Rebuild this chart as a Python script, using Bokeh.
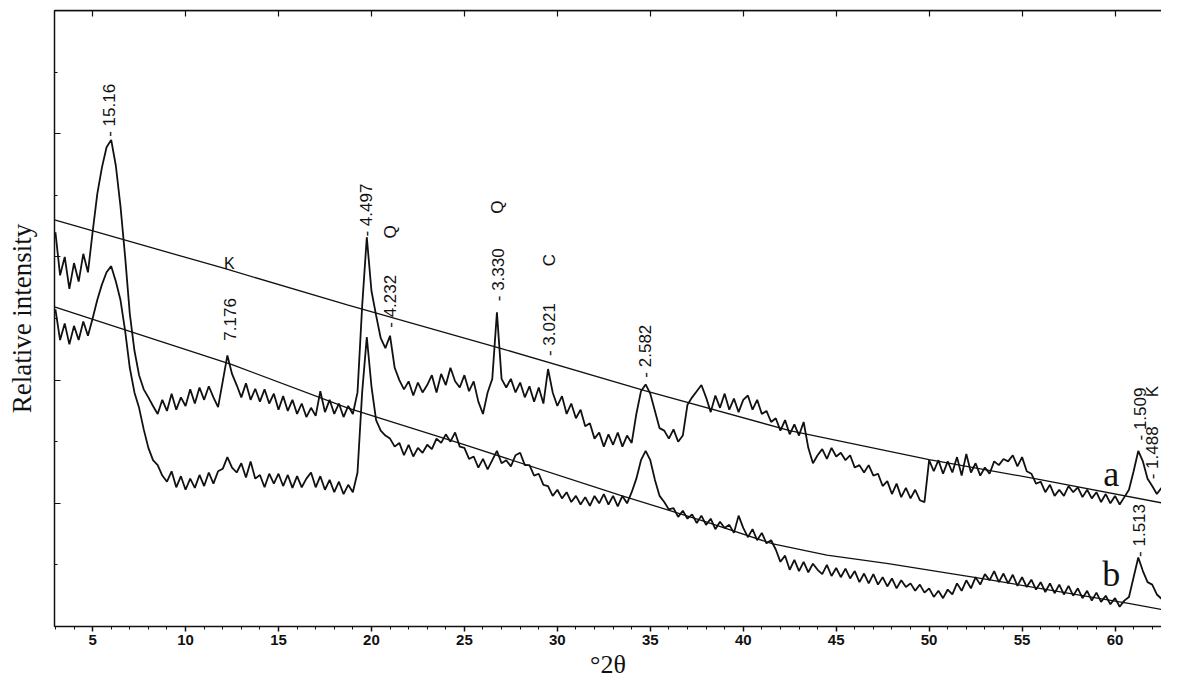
import numpy as np
from bokeh.plotting import figure
from bokeh.models import Range1d, LinearAxis, SingleIntervalTicker, CustomJSTickFormatter, ColumnDataSource, Span
from bokeh.core.properties import value
from bokeh.embed import file_html
from bokeh.resources import INLINE

# ---- data (2-theta grid: 3.00 .. 62.75 step 0.25) ----
theta_start = 3.0
theta_step = 0.25

intensity_a = [
    640, 570, 600, 548, 590, 560, 605, 575,   # 3-5
    640, 702, 745, 778, 790, 748, 682, 600,   # 5-7
    508, 448, 408, 385, 372, 358, 345, 368,   # 7-9
    350, 378, 352, 372, 358, 385, 362, 388,   # 9-11
    368, 390, 372, 356, 398, 440, 410, 392,   # 11-13
    372, 395, 368, 386, 365, 385, 362, 378,   # 13-15
    352, 374, 350, 368, 345, 362, 340, 355,   # 15-17
    342, 382, 348, 368, 345, 362, 340, 358,   # 17-19
    345, 380, 520, 632, 545, 505, 468, 452,   # 19-21
    472, 420, 400, 385, 398, 375, 396, 380,   # 21-23
    392, 408, 380, 410, 392, 420, 398, 388,   # 23-25
    408, 382, 398, 365, 345, 380, 402, 510,   # 25-27
    402, 388, 402, 380, 396, 372, 390, 365,   # 27-29
    388, 362, 418, 380, 358, 374, 345, 362,   # 29-31
    338, 352, 325, 330, 305, 315, 292, 312,   # 31-33
    295, 315, 292, 310, 298, 345, 382, 393,   # 33-35
    378, 350, 322, 318, 305, 320, 300, 310,   # 35-37
    360, 372, 382, 392, 372, 348, 375, 355,   # 37-39
    378, 352, 370, 348, 368, 375, 352, 368,   # 39-41
    345, 350, 332, 338, 318, 335, 312, 328,   # 41-43
    310, 332, 290, 265, 278, 288, 272, 290,   # 43-45
    276, 282, 270, 278, 258, 262, 250, 262,   # 45-47
    245, 248, 228, 236, 215, 232, 210, 225,   # 47-49
    208, 222, 205, 202, 270, 252, 270, 248,   # 49-51
    268, 250, 275, 245, 280, 250, 265, 245,   # 51-53
    258, 248, 268, 262, 272, 268, 278, 260,   # 53-55
    275, 252, 248, 232, 235, 218, 230, 212,   # 55-57
    222, 212, 228, 218, 226, 210, 222, 208,   # 57-59
    218, 202, 215, 200, 212, 198, 210, 222,   # 59-61
    252, 285, 268, 240, 228, 215, 225, 210,   # 61-63
]

intensity_b = [
    515, 465, 492, 458, 488, 465, 495, 472,   # 3-5
    500, 530, 555, 575, 585, 560, 530, 480,   # 5-7
    420, 380, 355, 320, 290, 270, 262, 245,   # 7-9
    235, 252, 226, 244, 222, 240, 225, 246,   # 9-11
    228, 250, 232, 252, 256, 275, 258, 250,   # 11-13
    265, 242, 268, 240, 246, 226, 248, 232,   # 13-15
    248, 228, 246, 225, 244, 226, 240, 250,   # 15-17
    226, 244, 222, 238, 218, 235, 215, 230,   # 17-19
    218, 250, 380, 470, 390, 335, 318, 310,   # 19-21
    305, 292, 298, 278, 295, 276, 290, 282,   # 21-23
    295, 288, 305, 298, 312, 300, 315, 292,   # 23-25
    290, 272, 276, 258, 272, 255, 270, 285,   # 25-27
    265, 270, 260, 278, 282, 262, 262, 245,   # 27-29
    248, 230, 228, 212, 222, 208, 218, 202,   # 29-31
    212, 198, 210, 196, 212, 200, 215, 198,   # 31-33
    212, 195, 212, 200, 218, 240, 270, 285,   # 33-35
    270, 238, 212, 202, 190, 192, 178, 188,   # 35-37
    175, 182, 168, 180, 165, 175, 158, 170,   # 37-39
    160, 165, 152, 180, 160, 145, 158, 140,   # 39-41
    152, 135, 140, 125, 105, 115, 92, 108,    # 41-43
    90, 105, 88, 102, 92, 85, 100, 82,        # 43-45
    95, 80, 94, 78, 90, 72, 86, 70,           # 45-47
    85, 68, 80, 65, 78, 62, 75, 64,           # 47-49
    70, 58, 68, 55, 62, 48, 58, 46,           # 49-51
    60, 52, 70, 58, 75, 62, 80, 68,           # 51-53
    85, 75, 90, 72, 86, 70, 84, 66,           # 53-55
    80, 64, 76, 60, 72, 56, 70, 54,           # 55-57
    68, 52, 66, 50, 62, 46, 58, 42,           # 57-59
    55, 40, 50, 36, 46, 32, 42, 48,           # 59-61
    80, 112, 90, 72, 68, 52, 45, 35,          # 61-63
]

baseline_a_x = [2.95, 12.0, 18.7, 26.9, 34.7, 42.5, 50.0, 55.9, 62.8]
baseline_a_y = [660, 582, 522, 452, 383, 318, 271, 239, 199]
baseline_b_x = [2.95, 12.5, 18.7, 24.9, 33.4, 38.0, 41.6, 44.5, 47.8, 53.2, 60.8, 62.8]
baseline_b_y = [519, 425, 355, 296, 213, 170, 134, 116, 102, 76, 37, 26]

peak_text = ["- 15.16", "7.176", "- 4.497", "Q", "- 4.232", "Q", "- 3.330", "C",
             "- 3.021", "- 2.582", "- 1.509", "- 1.488", "K", "- 1.513"]
peak_x = [5.9, 12.4, 19.75, 21.0, 21.0, 26.8, 26.85, 29.6,
          29.6, 34.75, 61.35, 62.0, 62.0, 61.3]
peak_y = [795, 464, 633, 630, 485, 670, 528, 585,
          439, 404, 302, 239, 372, 113]

upright_text = ["K"]
upright_x = [12.35]
upright_y = [590]

curve_names = ["a", "b"]
curve_name_x = [59.8, 59.8]
curve_name_y = [247, 86]

x_tick_interval = 5
y_tick_interval = 200
y_top = 1000

# ---- figure ----
x = [theta_start + theta_step * i for i in range(len(intensity_a))]
xb = [theta_start + theta_step * i for i in range(len(intensity_b))]

p = figure(width=1161, height=683, output_backend="svg", toolbar_location=None, title=None,
           x_range=Range1d(2.95, 62.5), y_range=Range1d(0, y_top),
           min_border_left=54, min_border_right=0, min_border_top=10, min_border_bottom=57,
           x_axis_location="below")
p.outline_line_color = None
p.grid.visible = False
p.background_fill_color = "white"
p.border_fill_color = "white"

black = "#111111"

# bottom axis
xa = p.xaxis[0]
xa.ticker = SingleIntervalTicker(interval=x_tick_interval, num_minor_ticks=5)
xa.major_tick_in = 0
xa.major_tick_out = 5
xa.minor_tick_in = 0
xa.minor_tick_out = 3
xa.axis_line_width = 1.5
xa.axis_line_color = black
xa.major_tick_line_color = black
xa.minor_tick_line_color = black
xa.major_tick_line_width = 1.5
xa.major_label_text_font = "Liberation Sans"
xa.major_label_text_font_style = "bold"
xa.major_label_text_font_size = "15px"
xa.major_label_text_color = black
xa.major_label_standoff = 3
xa.axis_label = "°2θ"
xa.axis_label_text_font = "Liberation Serif"
xa.axis_label_text_font_style = "normal"
xa.axis_label_text_font_size = "26px"
xa.axis_label_text_color = black
xa.axis_label_standoff = 2

# left axis
ya = p.yaxis[0]
ya.ticker = SingleIntervalTicker(interval=y_tick_interval, num_minor_ticks=2)
ya.formatter = CustomJSTickFormatter(code="return ''")
ya.major_tick_in = 6
ya.major_tick_out = 0
ya.minor_tick_in = 3
ya.minor_tick_out = 0
ya.major_label_standoff = 0
ya.axis_line_width = 1.5
ya.axis_line_color = black
ya.major_tick_line_color = black
ya.minor_tick_line_color = black
ya.axis_label = "Relative intensity"
ya.axis_label_text_font = "Liberation Serif"
ya.axis_label_text_font_style = "normal"
ya.axis_label_text_font_size = "27px"
ya.axis_label_text_color = black
ya.axis_label_standoff = 18

# top axis (ticks only)
top = LinearAxis(ticker=SingleIntervalTicker(interval=x_tick_interval, num_minor_ticks=0),
                 formatter=CustomJSTickFormatter(code="return ''"),
                 major_tick_in=6, major_tick_out=0, minor_tick_in=0, minor_tick_out=0,
                 major_label_standoff=0, axis_line_width=1.5, axis_line_color=black,
                 major_tick_line_color=black, major_tick_line_width=1.2)
p.add_layout(top, "above")
p.add_layout(Span(location=y_top, dimension="width", line_color=black, line_width=1.5))

# curves
p.line(x, intensity_a, line_color=black, line_width=1.8)
p.line(xb, intensity_b, line_color=black, line_width=1.8)
p.line(baseline_a_x, baseline_a_y, line_color=black, line_width=1.3)
p.line(baseline_b_x, baseline_b_y, line_color=black, line_width=1.3)

# annotations
src = ColumnDataSource(dict(x=peak_x, y=peak_y, t=peak_text))
p.text(x="x", y="y", text="t", source=src, angle=np.pi / 2,
       text_align="left", text_baseline="middle",
       text_font=value("Liberation Sans"), text_font_size="17px", text_color=black)

src2 = ColumnDataSource(dict(x=upright_x, y=upright_y, t=upright_text))
p.text(x="x", y="y", text="t", source=src2, text_align="center", text_baseline="middle",
       text_font=value("Liberation Sans"), text_font_size="16px", text_color=black)

src3 = ColumnDataSource(dict(x=curve_name_x, y=curve_name_y, t=curve_names))
p.text(x="x", y="y", text="t", source=src3, text_align="center", text_baseline="middle",
       text_font=value("Liberation Serif"), text_font_size="36px", text_color=black)

open("out.html", "w").write(file_html(p, INLINE))
